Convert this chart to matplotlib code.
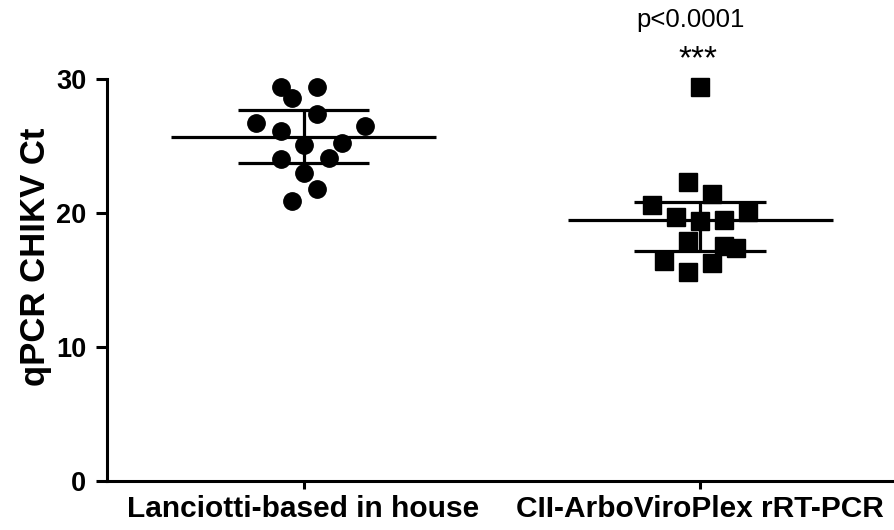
# Import libraries
import numpy as np
import matplotlib
matplotlib.use("Agg")
import matplotlib.pyplot as plt

# Ct values, with the horizontal scatter of each point
group_names = ["Lanciotti-based in house", "CII-ArboViroPlex rRT-PCR"]
lanciotti_ct = [29.4, 29.4, 28.6, 27.4, 26.7, 26.5, 26.1, 25.1, 25.2, 24.0, 24.1, 23.0, 21.8, 20.9]
lanciotti_jitter = [-0.058, 0.035, -0.028, 0.035, -0.121, 0.154, -0.058, 0.0, 0.096, -0.058, 0.064, 0.0, 0.033, -0.028]
arboviroplex_ct = [29.4, 22.3, 21.4, 20.6, 20.1, 19.7, 19.4, 19.5, 17.9, 17.5, 17.4, 16.4, 16.3, 15.6]
arboviroplex_jitter = [0.0, -0.030, 0.031, -0.122, 0.122, -0.060, 0.0, 0.060, -0.030, 0.060, 0.091, -0.091, 0.031, -0.030]
y_ticks = [0, 10, 20, 30]
p_text = "p<0.0001"
star_text = "***"

# Figure and axes (axis line runs to the right edge)
fig = plt.figure(figsize=(8.94, 5.30), dpi=100)
ax = fig.add_axes([0.1197, 0.0925, 0.8803, 0.7585])

groups = [
    (lanciotti_ct, lanciotti_jitter, "o"),
    (arboviroplex_ct, arboviroplex_jitter, "s")]

for i, (ct, jitter, marker) in enumerate(groups):
    pos = i + 1
    x = pos + np.array(jitter)
    ax.plot(x, ct, linestyle="none", marker=marker, markersize=12.5,
            color="black", clip_on=False, zorder=3)

    # Median with interquartile range (Prism style quartiles)
    q1, med, q3 = np.percentile(ct, [25, 50, 75], method="weibull")
    ax.hlines(med, pos - 0.334, pos + 0.334, color="black", lw=2.3, zorder=4)
    ax.hlines([q1, q3], pos - 0.166, pos + 0.166, color="black", lw=2.3, zorder=4)
    ax.vlines(pos, q1, q3, color="black", lw=2.3, zorder=4)

# Axes limits and ticks
ax.set_xlim(0.5044, 2.489)
ax.set_ylim(0, 30)
ax.set_yticks(y_ticks)
ax.set_xticks([1, 2])
ax.set_xticklabels(group_names, fontsize=21.5, fontweight="bold",
                   family=["Liberation Sans", "DejaVu Sans"])
for label in ax.get_yticklabels():
    label.set_fontsize(19.5)
    label.set_fontweight("bold")
    label.set_family(["Liberation Sans", "DejaVu Sans"])
ax.tick_params(axis="y", length=8, width=2.2, pad=7)
ax.tick_params(axis="x", length=6, width=2.2, pad=4)

# Prism style spines
ax.spines["top"].set_visible(False)
ax.spines["right"].set_visible(False)
ax.spines["left"].set_linewidth(2.2)
ax.spines["bottom"].set_linewidth(2.2)

# Axis title and significance text
fig.text(36 / 894, 1 - 257 / 530, "qPCR CHIKV Ct", rotation=90,
         ha="center", va="center", fontsize=25, fontweight="bold",
         family=["Liberation Sans", "DejaVu Sans"])
fig.text(691 / 894, 1 - 20 / 530, p_text, ha="center", va="center",
         fontsize=18.5, family=["Liberation Sans", "DejaVu Sans"])
fig.text(698 / 894, 1 - 60 / 530, star_text, ha="center", va="center",
         fontsize=24, family=["Liberation Sans", "DejaVu Sans"])

# Save the plot as a PNG file
plt.savefig("out.png", dpi=100)
